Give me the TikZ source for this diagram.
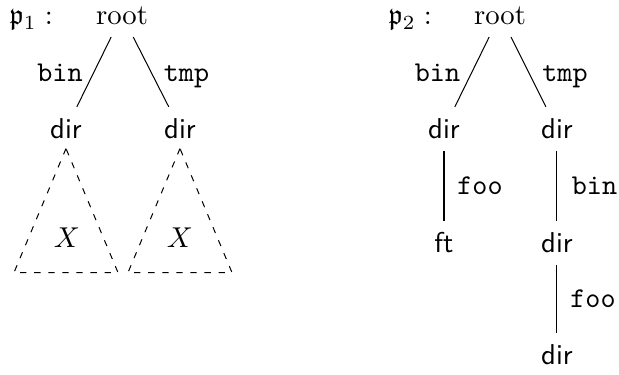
\documentclass[tikz,border=0pt]{standalone}
\usepackage{amssymb}
\begin{document}
\begin{tikzpicture}[x=0.3484pt,y=-0.3484pt,
  tn/.style={inner sep=4pt, text height=7pt, text depth=0pt, anchor=base, font=\sffamily},
  rootnode/.style={tn, font=\rmfamily},
  plabel/.style={inner sep=0pt, anchor=base west},
  lab/.style={inner sep=0pt, anchor=base, font=\ttfamily},
  treeedge/.style={line width=0.35pt},
  subtree/.style={dash pattern=on 2.2pt off 2.7pt, line width=0.35pt}]
\useasboundingbox (0,0) rectangle (619,375);
% ---- tree p1 ----
\node[plabel] (p1) at (9,25) {$\mathfrak{p}_1:$};
\node[rootnode] (r1) at (122,25) {root};
\node[tn] (a1) at (66,139) {dir};
\node[tn] (b1) at (180,139) {dir};
\draw[treeedge] (r1) -- (a1);
\draw[treeedge] (r1) -- (b1);
\node[lab] (l1) at (60,82) {bin};
\node[lab] (l2) at (186.5,82) {tmp};
\coordinate (ta) at ([yshift=0.87pt]a1.south);
\coordinate (tb) at ([yshift=0.87pt]b1.south);
\draw[subtree] (ta) -- ++(-52,124) -- ++(104,0) -- cycle;
\draw[subtree] (tb) -- ++(-52,124) -- ++(104,0) -- cycle;
\node[inner sep=0pt, anchor=base] (x1) at (67,248) {$X$};
\node[inner sep=0pt, anchor=base] (x2) at (180,248) {$X$};
% ---- tree p2 ----
\node[plabel] (p2) at (388,25) {$\mathfrak{p}_2:$};
\node[rootnode] (r2) at (500,25) {root};
\node[tn] (a2) at (444,139) {dir};
\node[tn] (b2) at (557,139) {dir};
\node[tn] (c2) at (444,253) {ft};
\node[tn] (d2) at (557,253) {dir};
\node[tn] (e2) at (557,365) {dir};
\draw[treeedge] (r2) -- (a2);
\draw[treeedge] (r2) -- (b2);
\draw[treeedge] (a2) -- (c2);
\draw[treeedge] (b2) -- (d2);
\draw[treeedge] (d2) -- (e2);
\node[lab] (m1) at (437.5,82) {bin};
\node[lab] (m2) at (565,82) {tmp};
\node[lab] (m3) at (480,195) {foo};
\node[lab] (m4) at (594.5,195) {bin};
\node[lab] (m5) at (593,308) {foo};
\end{tikzpicture}
\end{document}
